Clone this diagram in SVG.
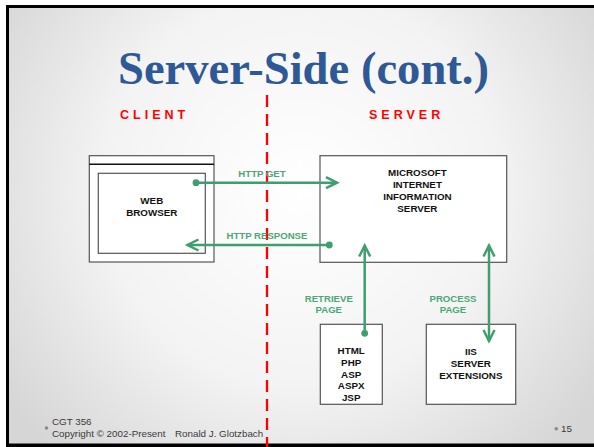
<svg xmlns="http://www.w3.org/2000/svg" width="594" height="447" viewBox="0 0 594 447">
<style>
.box{fill:#ffffff;stroke:#555555;stroke-width:1.2}
.nt{font-family:"Liberation Sans",Arial,sans-serif;font-weight:bold;font-size:9.8px;fill:#111111;text-anchor:middle}
.lbl{font-family:"Liberation Sans",Arial,sans-serif;font-weight:bold;font-size:9.6px;fill:#4aa878;text-anchor:middle}
.con{stroke:#3f9e6f;stroke-width:2.5;fill:none}
.side{font-family:"Liberation Sans",Arial,sans-serif;font-weight:bold;font-size:12.5px;fill:#ff0000;letter-spacing:4px}
.foot{font-family:"Liberation Sans",Arial,sans-serif;font-size:9.8px;fill:#3a3a3a}
</style>
<defs>
<radialGradient id="bg" cx="300" cy="190" r="360" gradientUnits="userSpaceOnUse">
<stop offset="0" stop-color="#ffffff"/>
<stop offset="0.55" stop-color="#f3f3f3"/>
<stop offset="1" stop-color="#d6d6d6"/>
</radialGradient>
<marker id="arr" markerUnits="userSpaceOnUse" markerWidth="16" markerHeight="16" refX="12" refY="7" orient="auto" overflow="visible">
<path d="M1,1.5 L12,7 L1,12.5" fill="none" stroke="#3f9e6f" stroke-width="2.5"/>
</marker>
<marker id="arrs" markerUnits="userSpaceOnUse" markerWidth="16" markerHeight="16" refX="12" refY="7" orient="auto-start-reverse" overflow="visible">
<path d="M1,1.5 L12,7 L1,12.5" fill="none" stroke="#3f9e6f" stroke-width="2.5"/>
</marker>
<marker id="dot" markerUnits="userSpaceOnUse" markerWidth="10" markerHeight="10" refX="5" refY="5" overflow="visible">
<circle cx="5" cy="5" r="3.4" fill="#3f9e6f"/>
</marker>
</defs>

<rect x="0" y="0" width="594" height="447" fill="#ffffff"/>
<rect x="6" y="5" width="600" height="445" fill="#000000"/>
<rect x="9" y="8" width="590" height="435.5" fill="url(#bg)"/>

<text x="118" y="84" font-family="'Liberation Serif','Times New Roman',serif" font-weight="bold" font-size="46" fill="#2f5897" textLength="371" lengthAdjust="spacingAndGlyphs">Server-Side (cont.)</text>

<text class="side" x="120" y="119">CLIENT</text>
<text class="side" x="369" y="119">SERVER</text>

<line x1="267" y1="95" x2="267" y2="447" stroke="#ff0000" stroke-width="2.3" stroke-dasharray="12,7"/>

<g id="browser">
<rect class="box" x="89.3" y="155.7" width="124.7" height="106.3"/>
<line x1="89.3" y1="164.3" x2="214" y2="164.3" stroke="#111111" stroke-width="1.5"/>
<rect class="box" x="98.3" y="173.3" width="107" height="80" stroke="#666666"/>
<text class="nt" x="151.8" y="204.3">WEB</text>
<text class="nt" x="151.8" y="215.7">BROWSER</text>
</g>

<g id="iis">
<rect class="box" x="320" y="155.7" width="186.7" height="106.6"/>
<text class="nt" x="417.4" y="176">MICROSOFT</text>
<text class="nt" x="417.4" y="188">INTERNET</text>
<text class="nt" x="417.4" y="200">INFORMATION</text>
<text class="nt" x="417.4" y="212">SERVER</text>
</g>

<g id="pages">
<rect class="box" x="320.3" y="324.3" width="62" height="80"/>
<text class="nt" x="351.2" y="354.3">HTML</text>
<text class="nt" x="351.2" y="366">PHP</text>
<text class="nt" x="351.2" y="377.7">ASP</text>
<text class="nt" x="351.2" y="389.3">ASPX</text>
<text class="nt" x="351.2" y="401">JSP</text>
</g>

<g id="extensions">
<rect class="box" x="426.3" y="324.3" width="89.4" height="80"/>
<text class="nt" x="470.9" y="354.5">IIS</text>
<text class="nt" x="470.9" y="366.6">SERVER</text>
<text class="nt" x="470.9" y="378.7">EXTENSIONS</text>
</g>

<g id="connectors">
<line class="con" x1="196" y1="182.7" x2="337" y2="182.7" marker-start="url(#dot)" marker-end="url(#arr)"/>
<text class="lbl" x="262" y="176.5">HTTP GET</text>
<line class="con" x1="329.3" y1="245" x2="187.5" y2="245" marker-start="url(#dot)" marker-end="url(#arr)"/>
<text class="lbl" x="267" y="239.3">HTTP RESPONSE</text>
<line class="con" x1="364.7" y1="333.3" x2="364.7" y2="245.5" marker-start="url(#dot)" marker-end="url(#arr)"/>
<text class="lbl" x="328.8" y="301.7">RETRIEVE</text>
<text class="lbl" x="328.8" y="312.7">PAGE</text>
<line class="con" x1="489" y1="245.5" x2="489" y2="341" marker-start="url(#arrs)" marker-end="url(#arr)"/>
<text class="lbl" x="453" y="301.7">PROCESS</text>
<text class="lbl" x="453" y="312.7">PAGE</text>
</g>

<g id="footer">
<circle cx="46.5" cy="428" r="1.8" fill="#8a8a8a"/>
<text class="foot" x="52" y="424.7">CGT 356</text>
<text class="foot" x="52" y="437">Copyright © 2002-Present</text>
<text class="foot" x="175" y="437">Ronald J. Glotzbach</text>
<circle cx="556.3" cy="428.7" r="1.8" fill="#8a8a8a"/>
<text class="foot" x="561" y="432.3">15</text>
</g>
</svg>
